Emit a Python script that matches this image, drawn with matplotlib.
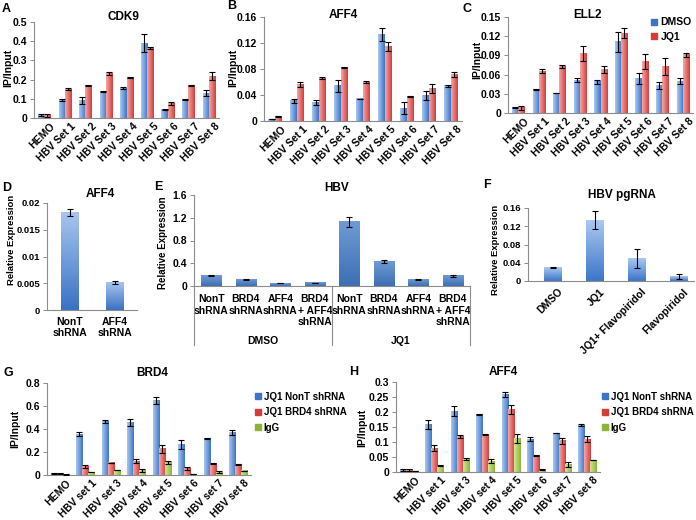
import numpy as np
import matplotlib
matplotlib.use('Agg')
import matplotlib.pyplot as plt
import matplotlib.transforms as mtransforms
from matplotlib.colors import LinearSegmentedColormap
from matplotlib.lines import Line2D

plt.rcParams['font.family'] = ['Liberation Sans', 'DejaVu Sans']
plt.rcParams['font.weight'] = 'bold'

W, H = 696, 520

# ---- data ----
sets_ac = ['HEMO'] + ['HBV Set %d' % i for i in range(1, 9)]
sets_gh = ['HEMO', 'HBV set 1', 'HBV set 3', 'HBV set 4', 'HBV set 5',
           'HBV set 6', 'HBV set 7', 'HBV set 8']

cdk9_dmso = [0.015, 0.095, 0.09, 0.14, 0.155, 0.39, 0.045, 0.097, 0.13]
cdk9_dmso_err = [0.005, 0.005, 0.018, 0.002, 0.004, 0.048, 0.002, 0.003, 0.016]
cdk9_jq1 = [0.012, 0.15, 0.168, 0.23, 0.212, 0.365, 0.075, 0.168, 0.218]
cdk9_jq1_err = [0.008, 0.005, 0.002, 0.008, 0.004, 0.006, 0.008, 0.002, 0.022]

aff4_dmso = [0.003, 0.031, 0.029, 0.054, 0.034, 0.133, 0.020, 0.039, 0.054]
aff4_dmso_err = [0.0005, 0.003, 0.004, 0.009, 0.0005, 0.010, 0.009, 0.007, 0.002]
aff4_jq1 = [0.007, 0.056, 0.066, 0.082, 0.060, 0.114, 0.038, 0.050, 0.072]
aff4_jq1_err = [0.001, 0.004, 0.001, 0.001, 0.002, 0.007, 0.0005, 0.007, 0.004]

ell2_dmso = [0.009, 0.037, 0.031, 0.051, 0.049, 0.111, 0.054, 0.043, 0.050]
ell2_dmso_err = [0.0005, 0.0005, 0.0005, 0.003, 0.003, 0.016, 0.008, 0.005, 0.005]
ell2_jq1 = [0.008, 0.065, 0.073, 0.093, 0.068, 0.125, 0.080, 0.073, 0.091]
ell2_jq1_err = [0.003, 0.003, 0.002, 0.011, 0.006, 0.008, 0.012, 0.013, 0.003]

d_labels = ['NonT\nshRNA', 'AFF4\nshRNA']
d_vals = [0.0182, 0.0051]
d_err = [0.0007, 0.0003]

e_labels = ['NonT\nshRNA', 'BRD4\nshRNA', 'AFF4\nshRNA', 'BRD4\n+ AFF4\nshRNA'] * 2
e_groups = ['DMSO', 'JQ1']
e_vals = [0.18, 0.12, 0.05, 0.055, 1.13, 0.43, 0.11, 0.18]
e_err = [0.01, 0.01, 0.005, 0.005, 0.09, 0.03, 0.005, 0.015]

f_labels = ['DMSO', 'JQ1', 'JQ1+ Flavopiridol', 'Flavopiridol']
f_vals = [0.029, 0.133, 0.050, 0.010]
f_err = [0.001, 0.020, 0.021, 0.006]

g_nont = [0.015, 0.355, 0.465, 0.46, 0.645, 0.265, 0.32, 0.37]
g_nont_err = [0.004, 0.015, 0.01, 0.03, 0.03, 0.04, 0.003, 0.02]
g_brd4 = [0.015, 0.075, 0.105, 0.12, 0.23, 0.055, 0.10, 0.09]
g_brd4_err = [0.003, 0.015, 0.003, 0.015, 0.035, 0.015, 0.003, 0.003]
g_igg = [0.005, 0.025, 0.043, 0.04, 0.11, 0.007, 0.025, 0.035]
g_igg_err = [0.001, 0.003, 0.003, 0.01, 0.015, 0.002, 0.008, 0.003]

h_nont = [0.008, 0.157, 0.203, 0.192, 0.258, 0.11, 0.13, 0.156]
h_nont_err = [0.003, 0.015, 0.017, 0.003, 0.008, 0.008, 0.001, 0.003]
h_brd4 = [0.007, 0.08, 0.118, 0.125, 0.208, 0.055, 0.104, 0.11]
h_brd4_err = [0.003, 0.01, 0.005, 0.003, 0.014, 0.001, 0.01, 0.01]
h_igg = [0.003, 0.022, 0.044, 0.036, 0.112, 0.008, 0.024, 0.04]
h_igg_err = [0.001, 0.003, 0.004, 0.007, 0.015, 0.001, 0.008, 0.001]

BLUE = ('#a9c8f2', '#3d74c6')
RED = ('#f6a8a6', '#d43d3a')
GREEN = ('#cfe896', '#8ab534')

TICK_FS = 7.5
TITLE_FS = 8.5

fig = plt.figure(figsize=(W / 100, H / 100), dpi=100)


def px_axes(l, r, t, b):
    return fig.add_axes([l / W, 1 - b / H, (r - l) / W, (b - t) / H])


def ftext(x, y, s, **kw):
    fig.text(x / W, 1 - y / H, s, **kw)


def grad_bars(ax, x, h, w, colors, vertical=False):
    cmap = LinearSegmentedColormap.from_list('g', colors)
    bars = ax.bar(x, h, w, color='none', edgecolor='none')
    for p in bars.patches:
        x0, y0 = p.get_x(), p.get_y()
        if vertical:
            g = np.linspace(1, 0, 40).reshape(-1, 1)
        else:
            g = np.linspace(0, 1, 40).reshape(1, -1)
        ax.imshow(g, cmap=cmap, extent=(x0, x0 + p.get_width(), y0, y0 + p.get_height()),
                  aspect='auto', origin='lower', interpolation='bilinear', zorder=2)


def err(ax, x, h, e):
    ax.errorbar(x, h, yerr=e, fmt='none', ecolor='black', elinewidth=0.8,
                capsize=2.3, capthick=0.8, zorder=3)


def style(ax, yticks, ylabels, ymax, xlim, fs=TICK_FS):
    for s in ['top', 'right']:
        ax.spines[s].set_visible(False)
    for s in ['left', 'bottom']:
        ax.spines[s].set_color('#8c8c8c')
        ax.spines[s].set_linewidth(0.8)
    ax.set_yticks(yticks)
    ax.set_yticklabels(ylabels, fontsize=fs, fontweight='bold')
    ax.tick_params(axis='y', length=3, width=0.7, color='#8c8c8c', pad=2)
    ax.tick_params(axis='x', length=0)
    ax.set_ylim(0, ymax)
    ax.set_xlim(*xlim)


def rot_labels(ax, labels, pad=2, shift=6):
    ax.set_xticks(range(len(labels)))
    ax.set_xticklabels(labels, rotation=45, ha='right', rotation_mode='anchor',
                       fontsize=TICK_FS, fontweight='bold')
    ax.tick_params(axis='x', pad=pad)
    off = mtransforms.ScaledTranslation(shift / 100, 0, fig.dpi_scale_trans)
    for lab in ax.get_xticklabels():
        lab.set_transform(lab.get_transform() + off)


# ---- A: CDK9 ----
ax = px_axes(34, 219, 22, 118)
x = np.arange(len(sets_ac))
bw = 0.3
grad_bars(ax, x - bw / 2, cdk9_dmso, bw, BLUE)
grad_bars(ax, x + bw / 2, cdk9_jq1, bw, RED)
err(ax, x - bw / 2, cdk9_dmso, cdk9_dmso_err)
err(ax, x + bw / 2, cdk9_jq1, cdk9_jq1_err)
style(ax, [0, 0.1, 0.2, 0.3, 0.4, 0.5], ['0', '0.1', '0.2', '0.3', '0.4', '0.5'], 0.5, (-0.5, 8.5))
rot_labels(ax, sets_ac)
ftext(123, 17, 'CDK9', ha='center', va='center', fontsize=TITLE_FS)
ftext(8, 68, 'IP/Input', rotation=90, ha='center', va='center', fontsize=7.5)
ftext(2, 9, 'A', ha='left', va='center', fontsize=9)

# ---- B: AFF4 ----
ax = px_axes(264, 462, 17, 121)
grad_bars(ax, x - bw / 2, aff4_dmso, bw, BLUE)
grad_bars(ax, x + bw / 2, aff4_jq1, bw, RED)
err(ax, x - bw / 2, aff4_dmso, aff4_dmso_err)
err(ax, x + bw / 2, aff4_jq1, aff4_jq1_err)
style(ax, [0, 0.04, 0.08, 0.12, 0.16], ['0', '0.04', '0.08', '0.12', '0.16'], 0.16, (-0.5, 8.5))
rot_labels(ax, sets_ac)
ftext(343, 15, 'AFF4', ha='center', va='center', fontsize=TITLE_FS)
ftext(233, 68, 'IP/Input', rotation=90, ha='center', va='center', fontsize=7.5)
ftext(227, 6, 'B', ha='left', va='center', fontsize=9)

# ---- C: ELL2 ----
ax = px_axes(508, 693, 17, 113)
grad_bars(ax, x - bw / 2, ell2_dmso, bw, BLUE)
grad_bars(ax, x + bw / 2, ell2_jq1, bw, RED)
err(ax, x - bw / 2, ell2_dmso, ell2_dmso_err)
err(ax, x + bw / 2, ell2_jq1, ell2_jq1_err)
style(ax, [0, 0.03, 0.06, 0.09, 0.12, 0.15], ['0', '0.03', '0.06', '0.09', '0.12', '0.15'], 0.15, (-0.5, 8.5))
rot_labels(ax, sets_ac)
ftext(587, 15, 'ELL2', ha='center', va='center', fontsize=TITLE_FS)
ftext(477, 60, 'IP/Input', rotation=90, ha='center', va='center', fontsize=7.5)
ftext(462, 9, 'C', ha='left', va='center', fontsize=9)
handles = [Line2D([], [], marker='s', ls='none', color=BLUE[1], markersize=4),
           Line2D([], [], marker='s', ls='none', color=RED[1], markersize=4)]
fig.legend(handles, ['DMSO', 'JQ1'], loc='upper left', bbox_to_anchor=(646 / W, 1 - 12 / H),
           frameon=False, prop={'size': 7.5, 'weight': 'bold'}, handlelength=0.6,
           handletextpad=0.3, labelspacing=0.45, borderpad=0)

# ---- D: AFF4 knockdown ----
ax = px_axes(47, 137, 203, 310)
xd = np.arange(len(d_vals))
grad_bars(ax, xd, d_vals, 0.4, ('#a6c4ef', '#3a72c4'), vertical=True)
err(ax, xd, d_vals, d_err)
style(ax, [0, 0.005, 0.01, 0.015, 0.02], ['0', '0.005', '0.01', '0.015', '0.02'], 0.02,
      (-0.5, 1.5), fs=6.8)
ax.set_xticks(xd)
ax.set_xticklabels(d_labels, fontsize=7.5, fontweight='bold', linespacing=1.1)
ax.tick_params(axis='x', pad=5)
ftext(100, 194, 'AFF4', ha='center', va='center', fontsize=TITLE_FS)
ftext(12, 240, 'Relative Expression', rotation=90, ha='center', va='center', fontsize=6.8)
ftext(2, 188, 'D', ha='left', va='center', fontsize=9)

# ---- E: HBV ----
ax = px_axes(194, 470, 195, 286)
xe = np.arange(len(e_vals))
grad_bars(ax, xe, e_vals, 0.58, ('#6f9bd3', '#3c6fb4'), vertical=True)
err(ax, xe, e_vals, e_err)
style(ax, [0, 0.4, 0.8, 1.2, 1.6], ['0', '0.4', '0.8', '1.2', '1.6'], 1.6, (-0.5, 7.5))
ax.set_xticks(xe)
ax.set_xticklabels(e_labels, fontsize=7.5, fontweight='bold', linespacing=1.15, va='top')
ax.tick_params(axis='x', pad=6)
for xa in [0, 0.5, 1.0]:
    ax.plot([xa, xa], [0, -0.65], transform=ax.transAxes, clip_on=False,
            color='#8c8c8c', lw=0.8)
for i, g in enumerate(e_groups):
    ax.text(0.25 + 0.5 * i, -0.6, g, transform=ax.transAxes, ha='center', va='center',
            fontsize=7.5)
ftext(337, 188, 'HBV', ha='center', va='center', fontsize=TITLE_FS)
ftext(163, 243, 'Relative Expression', rotation=90, ha='center', va='center', fontsize=7)
ftext(154, 187, 'E', ha='left', va='center', fontsize=9)

# ---- F: HBV pgRNA ----
ax = px_axes(528, 694, 208, 281)
xf = np.arange(len(f_vals))
grad_bars(ax, xf, f_vals, 0.42, ('#a9c8f2', '#3d76c8'), vertical=True)
err(ax, xf, f_vals, f_err)
style(ax, [0, 0.04, 0.08, 0.12, 0.16], ['0', '0.04', '0.08', '0.12', '0.16'], 0.16,
      (-0.6, 3.35), fs=6.8)
rot_labels(ax, f_labels, pad=4, shift=4)
ftext(622, 195, 'HBV pgRNA', ha='center', va='center', fontsize=TITLE_FS)
ftext(496, 250, 'Relative Expression', rotation=90, ha='center', va='center', fontsize=6.8)
ftext(483, 185, 'F', ha='left', va='center', fontsize=9)

# ---- G: BRD4 ----
bw3 = 0.24
xg = np.arange(len(sets_gh))
ax = px_axes(47, 251, 383, 475)
grad_bars(ax, xg - bw3, g_nont, bw3, BLUE)
grad_bars(ax, xg, g_brd4, bw3, RED)
grad_bars(ax, xg + bw3, g_igg, bw3, GREEN)
err(ax, xg - bw3, g_nont, g_nont_err)
err(ax, xg, g_brd4, g_brd4_err)
err(ax, xg + bw3, g_igg, g_igg_err)
style(ax, [0, 0.2, 0.4, 0.6, 0.8], ['0', '0.2', '0.4', '0.6', '0.8'], 0.8, (-0.5, 7.5))
rot_labels(ax, sets_gh)
ftext(152, 373, 'BRD4', ha='center', va='center', fontsize=TITLE_FS)
ftext(15, 429, 'IP/Input', rotation=90, ha='center', va='center', fontsize=7.5)
ftext(3, 373, 'G', ha='left', va='center', fontsize=9)
leg_names = ['JQ1 NonT shRNA', 'JQ1 BRD4 shRNA', 'IgG']
handles3 = [Line2D([], [], marker='s', ls='none', color=c[1], markersize=4)
            for c in (BLUE, RED, GREEN)]
fig.legend(handles3, leg_names, loc='upper left', bbox_to_anchor=(250 / W, 1 - 387 / H),
           frameon=False, prop={'size': 7, 'weight': 'bold'}, handlelength=0.6,
           handletextpad=0.3, labelspacing=0.55, borderpad=0)

# ---- H: AFF4 ----
ax = px_axes(396, 600, 382, 472)
grad_bars(ax, xg - bw3, h_nont, bw3, BLUE)
grad_bars(ax, xg, h_brd4, bw3, RED)
grad_bars(ax, xg + bw3, h_igg, bw3, GREEN)
err(ax, xg - bw3, h_nont, h_nont_err)
err(ax, xg, h_brd4, h_brd4_err)
err(ax, xg + bw3, h_igg, h_igg_err)
style(ax, [0, 0.05, 0.1, 0.15, 0.2, 0.25, 0.3],
      ['0', '0.05', '0.1', '0.15', '0.2', '0.25', '0.3'], 0.3, (-0.5, 7.5))
rot_labels(ax, sets_gh)
ftext(503, 372, 'AFF4', ha='center', va='center', fontsize=TITLE_FS)
ftext(362, 428, 'IP/Input', rotation=90, ha='center', va='center', fontsize=7.5)
ftext(349, 372, 'H', ha='left', va='center', fontsize=9)
fig.legend(handles3, leg_names, loc='upper left', bbox_to_anchor=(597 / W, 1 - 387 / H),
           frameon=False, prop={'size': 7, 'weight': 'bold'}, handlelength=0.6,
           handletextpad=0.3, labelspacing=0.55, borderpad=0)

fig.savefig('out.png', dpi=100, facecolor='white')
